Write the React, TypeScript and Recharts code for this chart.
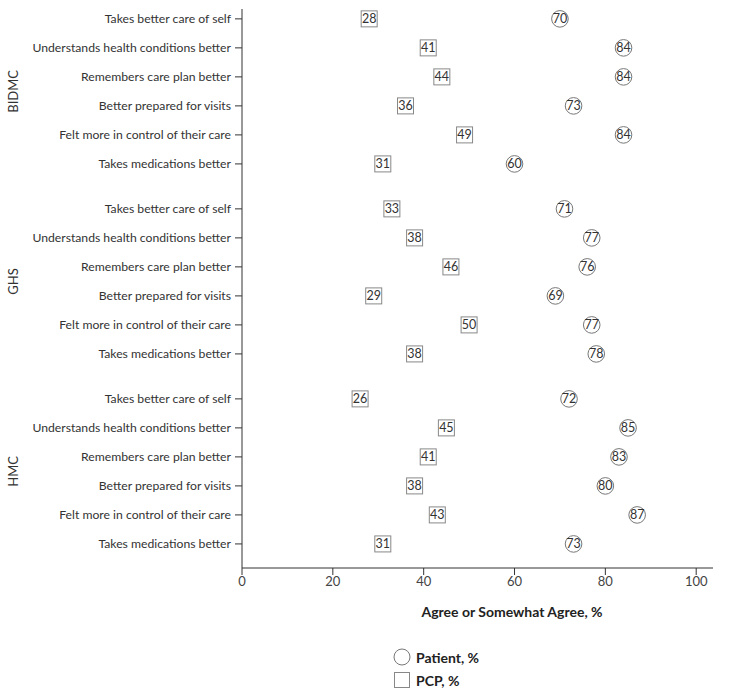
import { Scatter, ScatterChart, XAxis, YAxis } from 'recharts'

const groups = ['BIDMC', 'GHS', 'HMC']
const items = [
  'Takes better care of self',
  'Understands health conditions better',
  'Remembers care plan better',
  'Better prepared for visits',
  'Felt more in control of their care',
  'Takes medications better',
]
// one row per item, groups in order BIDMC, GHS, HMC
const patientPct = [
  [70, 84, 84, 73, 84, 60],
  [71, 77, 76, 69, 77, 78],
  [72, 85, 83, 80, 87, 73],
]
const pcpPct = [
  [28, 41, 44, 36, 49, 31],
  [33, 38, 46, 29, 50, 38],
  [26, 45, 41, 38, 43, 31],
]
const xTicks = [0, 20, 40, 60, 80, 100]

const GROUP_STEP = 6.55
const font = 'Lato, "Open Sans", sans-serif'

const rows = groups.flatMap((g, gi) =>
  items.map((item, ii) => ({
    group: g,
    item,
    pos: gi * GROUP_STEP + ii,
    patient: patientPct[gi][ii],
    pcp: pcpPct[gi][ii],
  })),
)
const groupMids = groups.map((_, gi) => gi * GROUP_STEP + 2.5)
const yTicks = [...rows.map((r) => r.pos), ...groupMids]

function YTick(props: any) {
  const { y, payload } = props
  const v = payload.value
  const gi = groupMids.indexOf(v)
  if (gi >= 0) {
    return (
      <text x={0} y={0} transform={`translate(18, ${y}) rotate(-90)`} textAnchor="middle" fontSize={13} fill="#333" fontFamily={font}>
        {groups[gi]}
      </text>
    )
  }
  const row = rows.find((r) => r.pos === v)
  return (
    <g>
      <line x1={235} x2={242} y1={y} y2={y} stroke="#333" />
      <text x={231} y={y} dy={4} textAnchor="end" fontSize={12.2} fill="#333" fontFamily={font}>
        {row ? row.item : ''}
      </text>
    </g>
  )
}

function CircleMark(props: any) {
  const { cx, cy, payload } = props
  return (
    <g>
      <circle cx={cx} cy={cy} r={8.3} fill="#fff" stroke="#777" strokeWidth={1} />
      <text x={cx} y={cy} dy={4.5} textAnchor="middle" fontSize={12.5} fill="#333" fontFamily={font}>
        {payload.patient}
      </text>
    </g>
  )
}

function SquareMark(props: any) {
  const { cx, cy, payload } = props
  return (
    <g>
      <rect x={cx - 8} y={cy - 8} width={16} height={16} fill="#fff" stroke="#888" strokeWidth={1} />
      <text x={cx} y={cy} dy={4.5} textAnchor="middle" fontSize={12.5} fill="#333" fontFamily={font}>
        {payload.pcp}
      </text>
    </g>
  )
}

export default function App() {
  return (
    <div style={{ position: 'absolute', left: 0, top: 0, width: 730, height: 696, background: '#fff', fontFamily: font }}>
      <ScatterChart width={730} height={696} margin={{ top: 9, right: 17, bottom: 98, left: 0 }}>
        <XAxis
          type="number"
          dataKey="x"
          domain={[0, 103.7]}
          ticks={xTicks}
          allowDataOverflow
          height={30}
          stroke="#333"
          tickSize={7}
          tick={{ fill: '#444', fontSize: 13, fontFamily: font }}
          label={{
            content: () => (
              <text x={512} y={617} textAnchor="middle" fontSize={14} fontWeight="bold" fill="#222" fontFamily={font}>
                Agree or Somewhat Agree, %
              </text>
            ),
          }}
        />
        <YAxis
          type="number"
          dataKey="pos"
          domain={[-0.34, 18.93]}
          reversed
          ticks={yTicks}
          interval={0}
          width={242}
          stroke="#333"
          tickLine={false}
          tick={<YTick />}
        />
        <Scatter
          data={rows.map((r) => ({ ...r, x: r.pcp }))}
          shape={<SquareMark />}
          isAnimationActive={false}
        />
        <Scatter
          data={rows.map((r) => ({ ...r, x: r.patient }))}
          shape={<CircleMark />}
          isAnimationActive={false}
        />
      </ScatterChart>
      <div style={{ position: 'absolute', left: 393, top: 647 }}>
        <div style={{ display: 'flex', alignItems: 'center', height: 20 }}>
          <svg width={18} height={18}>
            <circle cx={9} cy={9} r={8} fill="#fff" stroke="#777" />
          </svg>
          <span style={{ marginLeft: 5, fontSize: 14, fontWeight: 'bold', color: '#222' }}>Patient, %</span>
        </div>
        <div style={{ display: 'flex', alignItems: 'center', height: 20, marginTop: 3 }}>
          <svg width={18} height={18}>
            <rect x={1.5} y={1.5} width={15} height={15} fill="#fff" stroke="#888" />
          </svg>
          <span style={{ marginLeft: 5, fontSize: 14, fontWeight: 'bold', color: '#222' }}>PCP, %</span>
        </div>
      </div>
    </div>
  )
}
